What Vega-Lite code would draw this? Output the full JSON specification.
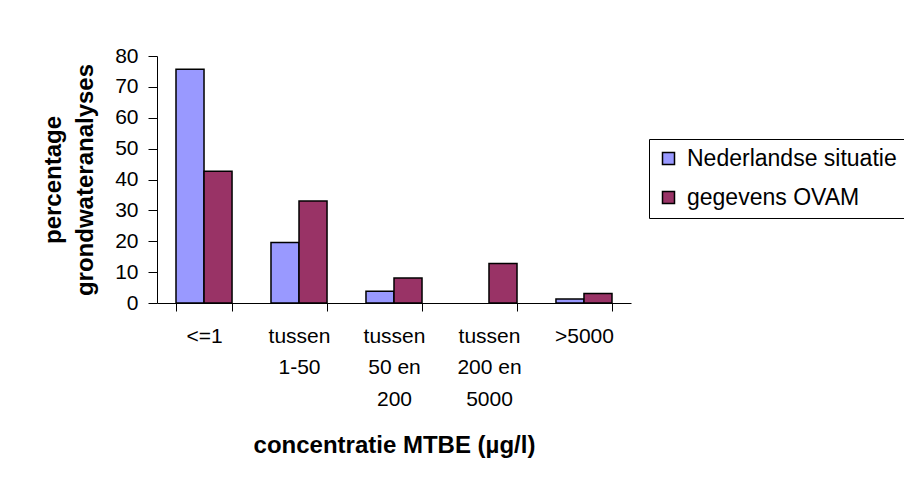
{
  "$schema": "https://vega.github.io/schema/vega-lite/v6.json",
  "autosize": "none",
  "width": 474,
  "height": 247,
  "padding": {"left": 157, "top": 56, "right": 273, "bottom": 180},
  "background": "white",
  "config": {
    "font": "Liberation Sans",
    "view": {"stroke": null},
    "axis": {"labelFont": "Liberation Sans", "titleFont": "Liberation Sans", "labelColor": "#000", "titleColor": "#000", "domainColor": "#000", "tickColor": "#000", "grid": false}
  },
  "data": {
    "values": [
      {"concentratie": "<=1", "reeks": "Nederlandse situatie", "percentage": 75.7},
      {"concentratie": "<=1", "reeks": "gegevens OVAM", "percentage": 42.7},
      {"concentratie": "tussen 1-50", "reeks": "Nederlandse situatie", "percentage": 19.6},
      {"concentratie": "tussen 1-50", "reeks": "gegevens OVAM", "percentage": 33.0},
      {"concentratie": "tussen 50 en 200", "reeks": "Nederlandse situatie", "percentage": 3.8},
      {"concentratie": "tussen 50 en 200", "reeks": "gegevens OVAM", "percentage": 8.1},
      {"concentratie": "tussen 200 en 5000", "reeks": "gegevens OVAM", "percentage": 12.8},
      {"concentratie": ">5000", "reeks": "Nederlandse situatie", "percentage": 1.3},
      {"concentratie": ">5000", "reeks": "gegevens OVAM", "percentage": 3.1}
    ]
  },
  "mark": {"type": "bar", "stroke": "#000", "strokeWidth": 1.5},
  "encoding": {
    "x": {
      "field": "concentratie",
      "type": "nominal",
      "sort": ["<=1", "tussen 1-50", "tussen 50 en 200", "tussen 200 en 5000", ">5000"],
      "scale": {"paddingInner": 0.41, "paddingOuter": 0.2},
      "axis": {
        "title": "concentratie MTBE (µg/l)",
        "titleFontSize": 24,
        "titleFontWeight": "bold",
        "titlePadding": 24,
        "labelFontSize": 21,
        "labelAngle": 0,
        "labelLineHeight": 31.5,
        "labelPadding": 14,
        "labelExpr": "datum.label == 'tussen 1-50' ? ['tussen', '1-50'] : datum.label == 'tussen 50 en 200' ? ['tussen', '50 en', '200'] : datum.label == 'tussen 200 en 5000' ? ['tussen', '200 en', '5000'] : datum.label",
        "tickBand": "extent",
        "tickSize": 8,
        "domainWidth": 1,
        "tickWidth": 1
      }
    },
    "xOffset": {
      "field": "reeks",
      "type": "nominal",
      "sort": ["Nederlandse situatie", "gegevens OVAM"],
      "scale": {"paddingInner": 0, "paddingOuter": 0}
    },
    "y": {
      "field": "percentage",
      "type": "quantitative",
      "scale": {"domain": [0, 80], "nice": false},
      "axis": {
        "title": ["percentage", "grondwateranalyses"],
        "titleFontSize": 24,
        "titleFontWeight": "bold",
        "titleLineHeight": 32,
        "titlePadding": 17,
        "labelFontSize": 21,
        "labelPadding": 10,
        "values": [0, 10, 20, 30, 40, 50, 60, 70, 80],
        "tickSize": 9,
        "domainWidth": 1,
        "tickWidth": 1
      }
    },
    "color": {
      "field": "reeks",
      "type": "nominal",
      "sort": ["Nederlandse situatie", "gegevens OVAM"],
      "scale": {"range": ["#9999FF", "#993366"]},
      "legend": {
        "title": null,
        "orient": "none",
        "legendX": 492,
        "legendY": 83,
        "symbolType": "square",
        "symbolSize": 144,
        "symbolStrokeColor": "#000",
        "symbolStrokeWidth": 1.5,
        "labelFont": "Liberation Sans",
        "labelFontSize": 23,
        "labelColor": "#000",
        "labelLimit": 0,
        "labelOffset": 7,
        "rowPadding": 15,
        "padding": 8,
        "strokeColor": "#000",
        "fillColor": "#fff"
      }
    }
  }
}
